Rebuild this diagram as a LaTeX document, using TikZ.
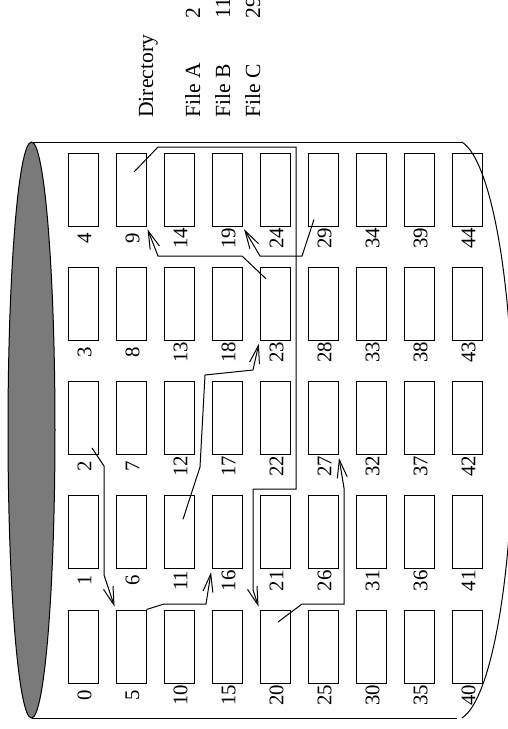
\documentclass[tikz,border=0pt]{standalone}
\usepackage{fontspec}
\setmainfont{Liberation Serif}
\usetikzlibrary{arrows.meta,calc}

\begin{document}
\begin{tikzpicture}[x=0.5pt,y=-0.5pt]
  % Styles
  \tikzset{
    blk/.style={draw=black, line width=0.5pt, minimum width=15pt, minimum height=36.5pt, inner sep=0pt},
    num/.style={rotate=90, inner sep=0pt, font=\fontsize{10.4}{12}\selectfont},
    dir/.style={rotate=90, anchor=base west, inner sep=0pt, font=\fontsize{10.8}{13}\selectfont},
    lien/.style={-{Straight Barb[length=9pt,width=5pt]}, line width=0.5pt, shorten >=1.5pt},
  }

  % Cadre
  \useasboundingbox (0,0) rectangle (508,729);
  \clip (0,0) rectangle (508,729);

  % Disque
  \draw[line width=0.5pt] (32,142) -- (463,142);
  \draw[line width=0.5pt] (32,718) -- (457,718);
  \draw[line width=0.5pt] plot[domain=-83.2:83.2, samples=60] ({455+58*cos(\x)},{430+290*sin(\x)});
  \filldraw[fill=black!52, draw=black, line width=0.5pt] (31.5,430) ellipse [x radius=11.75pt, y radius=144pt];

  % Blocs et numeros
  \foreach \c in {0,...,8}
    \foreach \r in {0,...,4}{
      \pgfmathtruncatemacro{\n}{5*\c+\r}
      \node[blk] (b\n) at ({83+48*\c},{189.5+(4-\r)*114.25}) {};
      \node[num] (n\n) at ({84.5+48*\c},{238+(4-\r)*114.25}) {\n};
    }

  % Repertoire
  \node[dir] (rep) at (153,118) {Directory};
  \node[dir] (fa) at (200,118) {File A};
  \node[dir] (fb) at (230,118) {File B};
  \node[dir] (fc) at (260,118) {File C};
  \node[dir] (da) at (200,19) {2};
  \node[dir] (db) at (230,19) {11};
  \node[dir] (dc) at (260,19) {29};

  % Points de depart dans les blocs
  \coordinate (s2) at ($(b2.center)+(9,30)$);
  \coordinate (s9) at ($(b9.center)+(3,-17.5)$);
  \coordinate (s11) at ($(b11.center)+(4,-13)$);
  \coordinate (s20) at ($(b20.center)+(3,-24.5)$);
  \coordinate (s23) at ($(b23.center)+(-9,-25)$);
  \coordinate (s29) at ($(b29.center)+(-9,30)$);

  % Chainages
  \draw[lien] (s2) -- (104,466) -- (104,575) -- (b5.north west);
  \draw[lien] (b5.north east) -- (164,604) -- (206,604) -- (b16.south west);
  \draw[lien] (s11) -- (200,467) -- (205,375) -- (253,370) -- (b23.south west);
  \draw[lien] (s23) -- (242,256) -- (158,256) -- (b9.south east);
  \draw[lien] (s29) -- (302,256) -- (260,256) -- (b19.south east);
  \draw[lien] (s9) -- (158,147) -- (296,147) -- (296,489) -- (253,489) -- (253,590) -- (b20.north west);
  \draw[lien] (s20) -- (302,604) -- (344,604) -- (344,488) -- (b27.south east);

\end{tikzpicture}
\end{document}
